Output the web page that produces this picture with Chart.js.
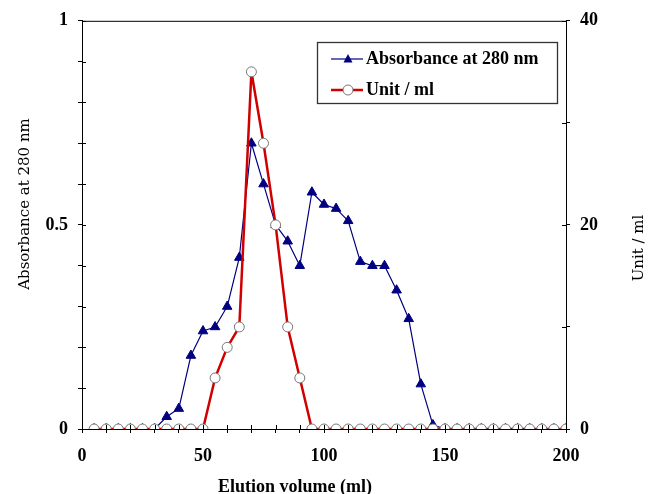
<!DOCTYPE html>
<html>
<head>
<meta charset="utf-8">
<script src="https://cdn.jsdelivr.net/npm/chart.js@4/dist/chart.umd.min.js"></script>
<style>
html,body{margin:0;padding:0;background:#fff;}
#wrap{width:649px;height:494px;position:relative;}
</style>
</head>
<body>
<div id="wrap"><canvas id="c" width="649" height="494"></canvas></div>
<script>
// ---- data ----
const elutionVolume = [5,10,15,20,25,30,35,40,45,50,55,60,65,70,75,80,85,90,95,100,105,110,115,120,125,130,135,140,145,150,155,160,165,170,175,180,185,190,195,200];
const absorbance280 = [0,0,0,0,0,0,0.03,0.05,0.18,0.24,0.25,0.30,0.42,0.70,0.60,0.50,0.46,0.40,0.58,0.55,0.54,0.51,0.41,0.40,0.40,0.34,0.27,0.11,0.01,0,0,0,0,0,0,0,0,0,0,0];
const unitPerMl = [0,0,0,0,0,0,0,0,0,0,5,8,10,35,28,20,10,5,0,0,0,0,0,0,0,0,0,0,0,0,0,0,0,0,0,0,0,0,0,0];
const seriesLabels = ['Absorbance at 280 nm','Unit / ml'];
const xTickLabels = [0,50,100,150,200];
const yLeftTickLabels = [0,0.5,1];
const yRightTickLabels = [0,20,40];
const axisTitles = {x:'Elution volume (ml)', y:'Absorbance at 280 nm', y1:'Unit / ml'};

const SERIF = '"Liberation Serif", "Times New Roman", serif';
const SIDE = '"DejaVu Serif", serif';
const tickFont = {family: SERIF, size: 18, weight: 'bold'};
const NAVY = '#000080';
const RED = '#d00000';

function near(v, list){ return list.some(t => Math.abs(t - v) < 1e-6); }

const decor = {
  id: 'decor',
  afterDraw(chart){
    const ctx = chart.ctx, ca = chart.chartArea;
    ctx.save();
    ctx.strokeStyle = '#000'; ctx.lineWidth = 1;
    // top border
    ctx.beginPath(); ctx.moveTo(ca.left, ca.top + 0.5); ctx.lineTo(ca.right, ca.top + 0.5); ctx.stroke();
    // inner tick halves
    const L = 4;
    const sx = chart.scales.x, sy = chart.scales.y, sy1 = chart.scales.y1;
    ctx.beginPath();
    sx.ticks.forEach(t => { const p = Math.round(sx.getPixelForValue(t.value)) + 0.5; ctx.moveTo(p, ca.bottom); ctx.lineTo(p, ca.bottom - L); });
    sy.ticks.forEach(t => { const p = Math.round(sy.getPixelForValue(t.value)) + 0.5; ctx.moveTo(ca.left, p); ctx.lineTo(ca.left + L, p); });
    sy1.ticks.forEach(t => { const p = Math.round(sy1.getPixelForValue(t.value)) + 0.5; ctx.moveTo(ca.right, p); ctx.lineTo(ca.right - L, p); });
    ctx.stroke();

    // axis titles
    ctx.fillStyle = '#000';
    ctx.textAlign = 'center'; ctx.textBaseline = 'middle';
    ctx.font = 'bold 18px ' + SERIF;
    ctx.fillText(axisTitles.x, 295, 487);
    ctx.font = '15px ' + SIDE;
    ctx.save(); ctx.translate(25, 204); ctx.rotate(-Math.PI/2); ctx.fillText(axisTitles.y, 0, 0); ctx.restore();
    ctx.save(); ctx.translate(639, 248); ctx.rotate(-Math.PI/2); ctx.fillText(axisTitles.y1, 0, 0); ctx.restore();

    // legend
    const bx = 317, by = 42, bw = 240, bh = 61;
    ctx.fillStyle = '#fff'; ctx.fillRect(bx, by, bw, bh);
    ctx.strokeStyle = '#333'; ctx.lineWidth = 1.3;
    ctx.strokeRect(bx + 0.5, by + 0.5, bw, bh);
    const rows = [59, 90];
    const ds = chart.data.datasets;
    // row 1: absorbance
    ctx.strokeStyle = NAVY; ctx.lineWidth = 1.2;
    ctx.beginPath(); ctx.moveTo(331, rows[0]); ctx.lineTo(363, rows[0]); ctx.stroke();
    ctx.fillStyle = NAVY;
    ctx.beginPath(); ctx.moveTo(348, rows[0]-5); ctx.lineTo(352.5, rows[0]+3.5); ctx.lineTo(343.5, rows[0]+3.5); ctx.closePath(); ctx.fill();
    // row 2: unit
    ctx.strokeStyle = RED; ctx.lineWidth = 2.5;
    ctx.beginPath(); ctx.moveTo(331, rows[1]); ctx.lineTo(363, rows[1]); ctx.stroke();
    ctx.fillStyle = '#fff'; ctx.strokeStyle = '#777'; ctx.lineWidth = 1;
    ctx.beginPath(); ctx.arc(348, rows[1], 5, 0, Math.PI*2); ctx.fill(); ctx.stroke();
    ctx.fillStyle = '#000'; ctx.textAlign = 'left';
    ctx.font = 'bold 18px ' + SERIF;
    ctx.fillText(ds[0].label, 366, rows[0]);
    ctx.fillText(ds[1].label, 366, rows[1]);
    ctx.restore();
  }
};

new Chart(document.getElementById('c'), {
  type: 'line',
  data: {
    datasets: [
      {
        label: seriesLabels[0],
        data: elutionVolume.map((x, i) => ({x, y: absorbance280[i]})),
        yAxisID: 'y',
        borderColor: NAVY, borderWidth: 1.2, borderJoinStyle: 'round',
        pointStyle: 'triangle', pointRadius: 5.5, pointBackgroundColor: NAVY, pointBorderColor: NAVY, pointBorderWidth: 1,
        tension: 0, order: 1
      },
      {
        label: seriesLabels[1],
        data: elutionVolume.map((x, i) => ({x, y: unitPerMl[i]})),
        yAxisID: 'y1',
        borderColor: RED, borderWidth: 2.5, borderJoinStyle: 'round',
        pointStyle: 'circle', pointRadius: 5, pointBackgroundColor: '#fff', pointBorderColor: '#777', pointBorderWidth: 1,
        tension: 0, order: 0
      }
    ]
  },
  options: {
    responsive: false,
    animation: false,
    events: [],
    layout: {padding: {top: 17, left: 0, right: 0, bottom: 0}},
    plugins: {legend: {display: false}, tooltip: {enabled: false}},
    scales: {
      x: {
        type: 'linear', min: 0, max: 200,
        afterFit: s => { s.height = 65; },
        border: {display: true, color: '#000', width: 1},
        grid: {display: true, drawOnChartArea: false, drawTicks: true, tickLength: 4, color: '#000'},
        ticks: {stepSize: 10, autoSkip: false, maxRotation: 0, padding: 13, color: '#000', font: tickFont,
          callback: v => near(v, xTickLabels) ? String(v) : ''}
      },
      y: {
        type: 'linear', position: 'left', min: 0, max: 1,
        afterFit: s => { s.width = 82; },
        border: {display: true, color: '#000', width: 1},
        grid: {display: true, drawOnChartArea: false, drawTicks: true, tickLength: 4, color: '#000'},
        ticks: {stepSize: 0.1, autoSkip: false, padding: 10, color: '#000', font: tickFont,
          callback: v => near(v, yLeftTickLabels) ? String(Math.round(v*10)/10) : ''}
      },
      y1: {
        type: 'linear', position: 'right', min: 0, max: 40,
        afterFit: s => { s.width = 83; },
        border: {display: true, color: '#000', width: 1},
        grid: {display: true, drawOnChartArea: false, drawTicks: true, tickLength: 4, color: '#000'},
        ticks: {stepSize: 10, autoSkip: false, padding: 10, color: '#000', font: tickFont,
          callback: v => near(v, yRightTickLabels) ? String(v) : ''}
      }
    }
  },
  plugins: [decor]
});
</script>
</body>
</html>
